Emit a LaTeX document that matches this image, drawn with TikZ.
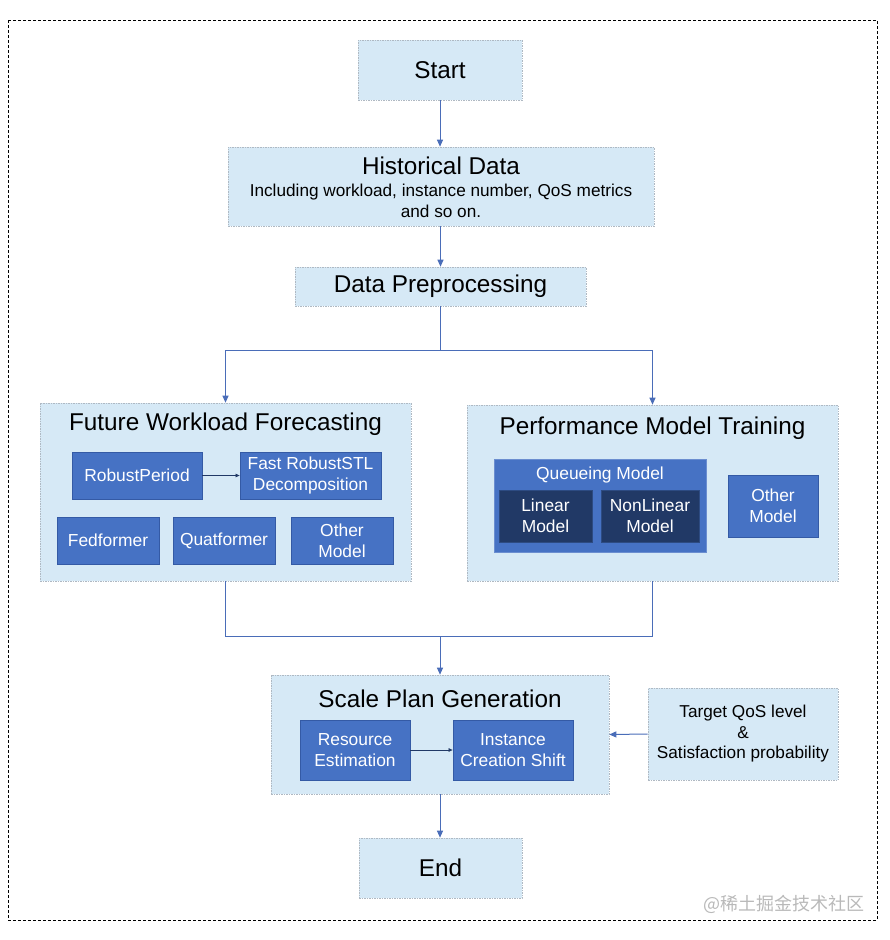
\documentclass[tikz,border=0pt]{standalone}
\usepackage{fontspec}
\setmainfont{Liberation Sans}
\newfontfamily\cjk{Noto Sans CJK SC}
\usetikzlibrary{arrows.meta}
\definecolor{lblue}{RGB}{214,233,246}
\definecolor{mblue}{RGB}{70,114,196}
\definecolor{mborder}{RGB}{52,90,165}
\definecolor{navy}{RGB}{33,57,102}
\definecolor{navyb}{RGB}{45,75,130}
\definecolor{arrc}{RGB}{74,109,184}
\definecolor{lborder}{RGB}{175,185,195}
\tikzset{
  lbox/.style={draw=lborder, dash pattern=on 1.5pt off 1pt, line width=0.6pt, fill=lblue, inner sep=0pt, align=center},
  mbox/.style={draw=mborder, line width=0.8pt, fill=mblue, text=white, inner sep=0pt, align=center, font=\fontsize{17.4}{21}\selectfont},
  nbox/.style={draw=navyb, line width=0.8pt, fill=navy, text=white, inner sep=0pt, align=center, font=\fontsize{17.4}{21}\selectfont},
  ttl/.style={inner sep=0pt, font=\fontsize{24.3}{28}\selectfont},
  arr/.style={draw=arrc, line width=1pt, -{Triangle[width=6pt,length=7pt]}},
  ln/.style={draw=arrc, line width=1pt},
  thin arr/.style={draw=navy, line width=0.7pt, -{Triangle[width=3.5pt,length=4pt]}},
}
\begin{document}
\begin{tikzpicture}[x=1pt,y=-1pt]
\useasboundingbox (0,0) rectangle (890,940);
\draw[dashed, line width=0.8pt, dash pattern=on 3pt off 2pt] (8,20) rectangle (877,920);

% top chain
\node[lbox, minimum width=164pt, minimum height=60pt, font=\fontsize{24.3}{28}\selectfont] (start) at (440,70) {Start};
\node[lbox, minimum width=426pt, minimum height=79pt] (hist) at (441,186.5) {};
\node[ttl] (histt) at (441,166) {Historical Data};
\node[inner sep=0pt, align=center, font=\fontsize{17.2}{21}\selectfont] (hists) at (441,201) {Including workload, instance number, QoS metrics\\and so on.};
\node[lbox, minimum width=291pt, minimum height=39pt, font=\fontsize{24.3}{28}\selectfont] (prep) at (440.5,286.5) {Data Preprocessing};

% forecasting
\node[lbox, minimum width=371pt, minimum height=178pt] (fwf) at (225.5,492) {};
\node[ttl] (fwft) at (225.5,424) {Future Workload Forecasting};
\node[mbox, minimum width=130pt, minimum height=47pt] (rp) at (137,475.5) {RobustPeriod};
\node[mbox, minimum width=141pt, minimum height=47pt] (frs) at (310.5,475.5) {Fast RobustSTL\\Decomposition};
\node[mbox, minimum width=102pt, minimum height=47pt] (fed) at (108,540.5) {Fedformer};
\node[mbox, minimum width=102pt, minimum height=47pt] (quat) at (224,540.5) {Quatformer};
\node[mbox, minimum width=102pt, minimum height=47pt] (oth1) at (342,540.5) {Other\\Model};
\draw[thin arr] (rp.east) -- (frs.west);

% performance
\node[lbox, minimum width=371pt, minimum height=176pt] (pmt) at (652.5,493) {};
\node[ttl] (pmtt) at (652.5,428) {Performance Model Training};
\node[mbox, draw=mblue!80!white, minimum width=212pt, minimum height=93pt] (qm) at (600,505.5) {};
\node[inner sep=0pt, text=white, font=\fontsize{17.4}{21}\selectfont] (qmt) at (600,475) {Queueing Model};
\node[nbox, minimum width=93pt, minimum height=52pt] (lin) at (545.5,516) {Linear\\Model};
\node[nbox, minimum width=98pt, minimum height=52pt] (nonlin) at (650,516) {NonLinear\\Model};
\node[mbox, minimum width=90pt, minimum height=62pt] (oth2) at (773,506) {Other\\Model};

% scale plan
\node[lbox, minimum width=338pt, minimum height=119pt] (spg) at (440,734.5) {};
\node[ttl] (spgt) at (440,699) {Scale Plan Generation};
\node[mbox, minimum width=110pt, minimum height=60pt] (re) at (355,750) {Resource\\Estimation};
\node[mbox, minimum width=120pt, minimum height=60pt] (ics) at (513,750) {Instance\\Creation Shift};
\draw[thin arr] (re.east) -- (ics.west);

\node[lbox, minimum width=190pt, minimum height=92pt, font=\fontsize{17.2}{20.5}\selectfont] (tqos) at (743,734) {Target QoS level\\\&\\Satisfaction probability};

\node[lbox, minimum width=163pt, minimum height=60pt, font=\fontsize{24.3}{28}\selectfont] (end) at (440.5,868) {End};

% connectors
\coordinate (j1) at (440.5,350);
\coordinate (j2) at (440,636);
\draw[arr] (start.south) -- (hist.north -| start.south);
\draw[arr] (hist.south -| prep.north) -- (prep.north);
\draw[ln] (prep.south) -- (j1);
\draw[arr] (j1) -| (fwf.north);
\draw[arr] (j1) -| (pmt.north);
\draw[ln] (fwf.south) |- (j2);
\draw[ln] (pmt.south) |- (j2);
\draw[arr] (j2) -- (spg.north);
\draw[arr] (tqos.west) -- (spg.east);
\draw[arr] (spg.south) -- (end.north -| spg.south);

\node[inner sep=0pt, anchor=east, text=gray!55, font=\cjk\fontsize{18}{21}\selectfont] (wm) at (865,904) {@稀土掘金技术社区};
\end{tikzpicture}
\end{document}
